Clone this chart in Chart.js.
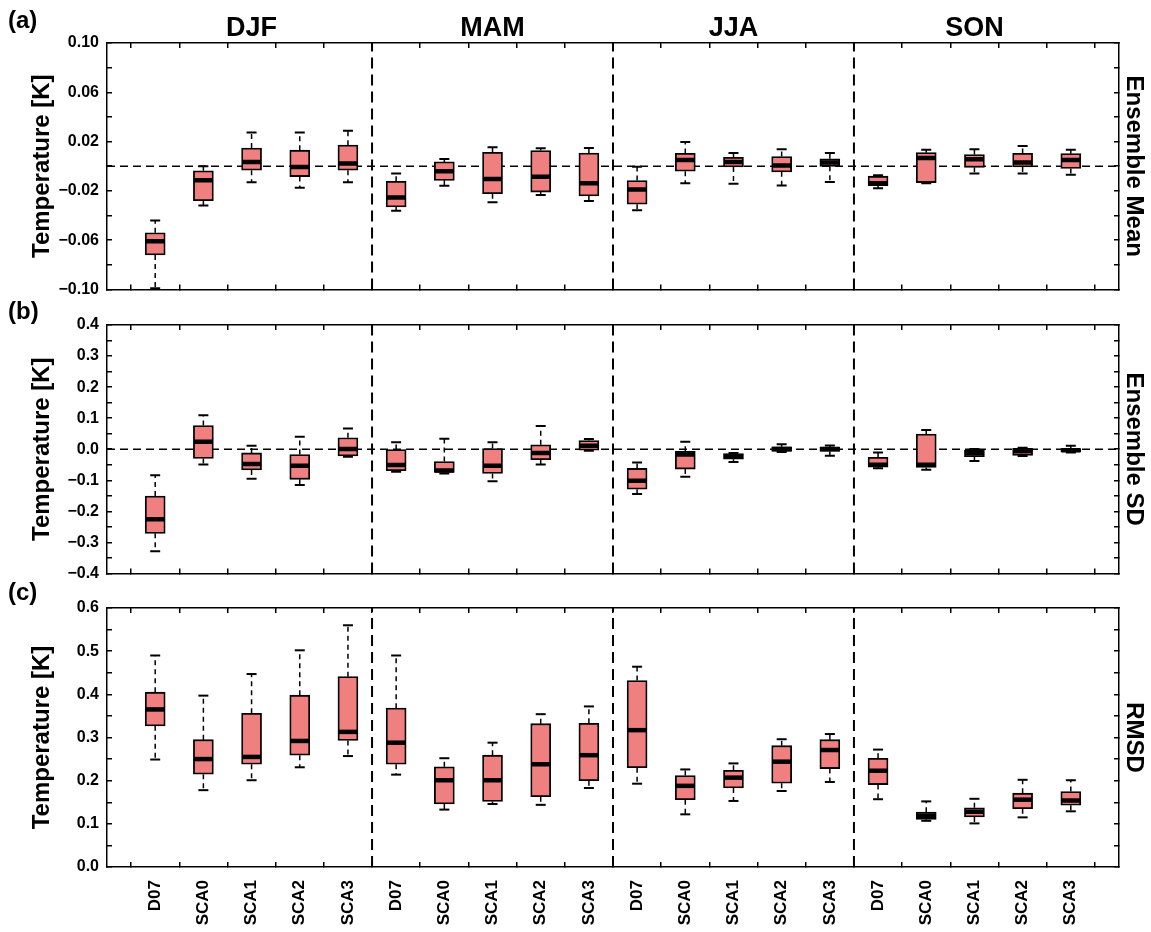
<!DOCTYPE html>
<html>
<head>
<meta charset="utf-8">
<script src="https://cdn.jsdelivr.net/npm/chart.js@4"></script>
<style>
  body { margin: 0; background: #fff; }
  canvas { position: absolute; left: 0; }
</style>
</head>
<body>
<canvas id="meanChart" width="1151" height="312" style="top:0px"></canvas>
<canvas id="sdChart" width="1151" height="300" style="top:296px"></canvas>
<canvas id="rmsdChart" width="1151" height="354" style="top:578px"></canvas>
<script>
const seasons = ['DJF', 'MAM', 'JJA', 'SON'];
const models = ['D07', 'SCA0', 'SCA1', 'SCA2', 'SCA3'];
const categories = seasons.flatMap(() => models);

// one box per category: [min, q1, median, q3, max]
const meanBoxes = [
  [-0.099, -0.072, -0.061, -0.054, -0.044],
  [-0.032, -0.028, -0.0115, -0.0037, 0.000],
  [-0.013, -0.0032, 0.0035, 0.0148, 0.0274],
  [-0.0174, -0.0084, -0.0006, 0.013, 0.0274],
  [-0.013, -0.0032, 0.0022, 0.0171, 0.0287],
  [-0.0362, -0.0331, -0.0254, -0.0122, -0.006],
  [-0.0158, -0.0115, -0.004, 0.0035, 0.0058],
  [-0.0292, -0.0223, -0.0104, 0.0112, 0.0153],
  [-0.0233, -0.021, -0.0086, 0.0127, 0.0145],
  [-0.0282, -0.0241, -0.0138, 0.0107, 0.0148],
  [-0.0357, -0.0308, -0.0189, -0.0117, -0.0004],
  [-0.0138, -0.004, 0.005, 0.0104, 0.0197],
  [-0.0143, -0.0006, 0.0035, 0.0073, 0.0107],
  [-0.0156, -0.0046, 0.0005, 0.0078, 0.0138],
  [-0.0128, -0.0001, 0.003, 0.006, 0.0107],
  [-0.0179, -0.0158, -0.0138, -0.0081, -0.0073],
  [-0.0138, -0.0133, 0.0066, 0.011, 0.0133],
  [-0.006, -0.0009, 0.0056, 0.0094, 0.0138],
  [-0.006, -0.0006, 0.003, 0.0104, 0.0164],
  [-0.007, -0.0019, 0.005, 0.0102, 0.0133],
];

const sdBoxes = [
  [-0.329, -0.271, -0.226, -0.151, -0.084],
  [-0.049, -0.030, 0.024, 0.076, 0.109],
  [-0.095, -0.067, -0.048, -0.012, 0.011],
  [-0.115, -0.097, -0.053, -0.017, 0.040],
  [-0.024, -0.022, 0.001, 0.037, 0.067],
  [-0.073, -0.069, -0.051, -0.001, 0.022],
  [-0.078, -0.075, -0.069, -0.040, 0.034],
  [-0.103, -0.078, -0.053, 0.002, 0.022],
  [-0.049, -0.034, -0.012, 0.014, 0.075],
  [-0.005, -0.003, 0.011, 0.028, 0.033],
  [-0.144, -0.129, -0.102, -0.062, -0.043],
  [-0.089, -0.064, -0.017, -0.007, 0.024],
  [-0.041, -0.032, -0.023, -0.014, -0.012],
  [-0.009, -0.007, 0.001, 0.008, 0.016],
  [-0.021, -0.007, 0.001, 0.007, 0.012],
  [-0.061, -0.058, -0.050, -0.026, -0.011],
  [-0.066, -0.059, -0.050, 0.049, 0.062],
  [-0.038, -0.024, -0.012, -0.003, 0.001],
  [-0.022, -0.020, -0.007, 0.003, 0.005],
  [-0.011, -0.009, -0.003, 0.002, 0.011],
];

const rmsdBoxes = [
  [0.249, 0.327, 0.365, 0.405, 0.490],
  [0.178, 0.215, 0.250, 0.295, 0.397],
  [0.201, 0.238, 0.255, 0.356, 0.447],
  [0.231, 0.259, 0.292, 0.398, 0.502],
  [0.257, 0.293, 0.313, 0.441, 0.560],
  [0.214, 0.238, 0.288, 0.368, 0.490],
  [0.133, 0.146, 0.201, 0.232, 0.252],
  [0.146, 0.152, 0.201, 0.259, 0.288],
  [0.144, 0.163, 0.238, 0.332, 0.354],
  [0.183, 0.200, 0.259, 0.333, 0.372],
  [0.193, 0.230, 0.317, 0.432, 0.464],
  [0.122, 0.156, 0.188, 0.212, 0.226],
  [0.153, 0.183, 0.207, 0.224, 0.240],
  [0.176, 0.194, 0.244, 0.281, 0.296],
  [0.197, 0.228, 0.271, 0.295, 0.308],
  [0.157, 0.191, 0.223, 0.252, 0.272],
  [0.107, 0.110, 0.118, 0.127, 0.152],
  [0.101, 0.116, 0.128, 0.137, 0.158],
  [0.115, 0.135, 0.156, 0.171, 0.202],
  [0.129, 0.143, 0.154, 0.175, 0.201],
];

const meanTicks = [-0.10, -0.08, -0.06, -0.04, -0.02, 0, 0.02, 0.04, 0.06, 0.08, 0.10];
const meanTickLabels = ['−0.10', '', '−0.06', '', '−0.02', '', '0.02', '', '0.06', '', '0.10'];
const sdTicks = [-0.4, -0.35, -0.3, -0.25, -0.2, -0.15, -0.1, -0.05, 0, 0.05, 0.1, 0.15, 0.2, 0.25, 0.3, 0.35, 0.4];
const sdTickLabels = ['−0.4', '', '−0.3', '', '−0.2', '', '−0.1', '', '0.0', '', '0.1', '', '0.2', '', '0.3', '', '0.4'];
const rmsdTicks = [0, 0.05, 0.1, 0.15, 0.2, 0.25, 0.3, 0.35, 0.4, 0.45, 0.5, 0.55, 0.6];
const rmsdTickLabels = ['0.0', '', '0.1', '', '0.2', '', '0.3', '', '0.4', '', '0.5', '', '0.6'];

const family = '"Liberation Sans", Arial, Helvetica, sans-serif';
const boxFill = '#F08080';

// season titles and (a)/(b)/(c) tags
const textPlugin = {
  id: 'panelText',
  afterDraw(chart, args, opts) {
    const ctx = chart.ctx;
    ctx.save();
    ctx.fillStyle = '#000';
    ctx.textBaseline = 'alphabetic';
    ctx.textAlign = 'left';
    ctx.font = 'bold 24px ' + family;
    ctx.fillText(opts.tag, 8, opts.tagY);
    if (opts.seasons) {
      ctx.font = 'bold 27px ' + family;
      ctx.textAlign = 'center';
      seasons.forEach((s, k) => {
        ctx.fillText(s, chart.scales.x.getPixelForValue(k * models.length + 2), 36);
      });
    }
    ctx.restore();
  }
};

function boxDatasets(boxes) {
  const whiskers = [];
  const caps = [];
  boxes.forEach((b, i) => {
    whiskers.push({x: i, y: b[3]}, {x: i, y: b[4]}, {x: i, y: null},
                  {x: i, y: b[1]}, {x: i, y: b[0]}, {x: i, y: null});
    caps.push({x: i, y: b[0]}, {x: i, y: b[4]});
  });
  return [
    {
      type: 'line', data: boxes.map((b, i) => ({x: i, y: b[2]})),
      showLine: false, pointStyle: 'line', pointRadius: 9.5,
      pointBorderWidth: 4.5, pointBorderColor: '#000', order: 0
    },
    {
      type: 'line', data: caps, showLine: false, pointStyle: 'line',
      pointRadius: 5, pointBorderWidth: 2, pointBorderColor: '#000', order: 1
    },
    {
      type: 'bar', data: boxes.map((b, i) => ({x: i, y: [b[1], b[3]]})),
      backgroundColor: boxFill, borderColor: '#000', borderWidth: 1.8,
      borderSkipped: false, barThickness: 20, order: 2
    },
    {
      type: 'line', data: whiskers, borderColor: '#000', borderWidth: 1.5,
      borderDash: [5, 4], pointRadius: 0, spanGaps: false, order: 3
    }
  ];
}

function separatorDataset(yMin, yMax) {
  const pts = [];
  for (let k = 1; k < seasons.length; k++) {
    const xs = k * models.length - 0.5;
    pts.push({x: xs, y: yMin}, {x: xs, y: yMax}, {x: xs, y: null});
  }
  return {
    type: 'line', data: pts, borderColor: '#000', borderWidth: 2,
    borderDash: [11, 6], pointRadius: 0, spanGaps: false, order: 4
  };
}

function zeroDataset() {
  return {
    type: 'line', data: [{x: -1, y: 0}, {x: categories.length, y: 0}],
    borderColor: '#000', borderWidth: 1.5, borderDash: [8, 5], pointRadius: 0, order: 5
  };
}

const gridOpts = { drawOnChartArea: false, drawTicks: true, tickLength: -5, color: '#000', lineWidth: 1.5 };
const borderOpts = { display: true, color: '#000', width: 1.5 };

function xAxis(position, showLabels, height) {
  return {
    type: 'linear', position, min: -1, max: categories.length, offset: false,
    afterBuildTicks: s => { s.ticks = categories.map((c, i) => ({value: i})); },
    afterFit: s => { s.height = height; },
    ticks: {
      display: showLabels, autoSkip: false, minRotation: 90, maxRotation: 90,
      padding: 18, color: '#000', font: {family, size: 17, weight: 'bold'},
      callback: (v, i) => categories[i]
    },
    grid: gridOpts,
    border: borderOpts
  };
}

function yAxis(position, tickValues, tickLabels, title) {
  return {
    type: 'linear', position,
    min: tickValues[0], max: tickValues[tickValues.length - 1],
    afterBuildTicks: s => { s.ticks = tickValues.map(v => ({value: v})); },
    afterFit: s => { s.width = position === 'left' ? 107 : 32; },
    ticks: {
      display: !!tickLabels, autoSkip: false, padding: 13, color: '#000',
      font: {family, size: 16, weight: 'bold'},
      callback: (v, i) => (tickLabels ? tickLabels[i] : '')
    },
    title: {
      display: true, text: title, color: '#000',
      font: {family, size: 24, weight: 'bold'},
      padding: position === 'left' ? {top: 28, bottom: 0} : {top: 3, bottom: 0}
    },
    grid: gridOpts,
    border: borderOpts
  };
}

function panel(canvasId, boxes, yTicks, yLabels, sideTitle, opt) {
  const datasets = boxDatasets(boxes);
  datasets.push(separatorDataset(yTicks[0], yTicks[yTicks.length - 1]));
  if (opt.zero) datasets.push(zeroDataset());
  datasets.forEach(d => { d.xAxisID = 'x'; d.yAxisID = 'y'; });
  return new Chart(document.getElementById(canvasId), {
    type: 'bar',
    data: { datasets },
    options: {
      responsive: false,
      animation: false,
      events: [],
      layout: { padding: { top: opt.padTop, bottom: opt.padBottom, left: 0, right: 0 } },
      plugins: {
        legend: { display: false },
        tooltip: { enabled: false },
        panelText: { tag: opt.tag, tagY: opt.tagY, seasons: opt.seasons }
      },
      scales: {
        x: xAxis('bottom', opt.xLabels, opt.xHeight),
        x2: xAxis('top', false, 0),
        y: yAxis('left', yTicks, yLabels, 'Temperature [K]'),
        y2: yAxis('right', yTicks, null, sideTitle)
      }
    },
    plugins: [textPlugin]
  });
}

panel('meanChart', meanBoxes, meanTicks, meanTickLabels, 'Ensemble Mean',
  { tag: '(a)', tagY: 28, seasons: true, zero: true, padTop: 43, padBottom: 10, xLabels: false, xHeight: 0 });
panel('sdChart', sdBoxes, sdTicks, sdTickLabels, 'Ensemble SD',
  { tag: '(b)', tagY: 23, seasons: false, zero: true, padTop: 29, padBottom: 12, xLabels: false, xHeight: 0 });
panel('rmsdChart', rmsdBoxes, rmsdTicks, rmsdTickLabels, 'RMSD',
  { tag: '(c)', tagY: 22, seasons: false, zero: false, padTop: 30, padBottom: 0, xLabels: true, xHeight: 65 });
</script>
</body>
</html>
